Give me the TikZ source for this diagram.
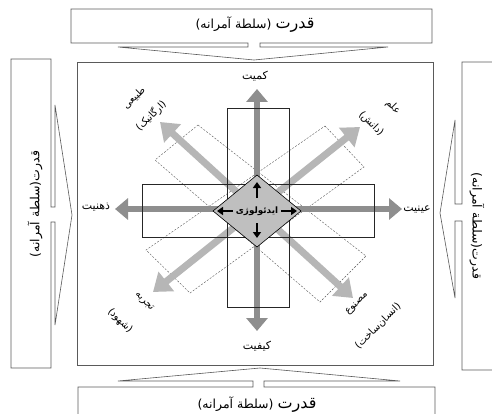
\documentclass[tikz,border=0pt]{standalone}
\usepackage{fontspec}
\TeXXeTstate=1
\newfontfamily\fa[Script=Arabic]{DejaVu Sans}
\usetikzlibrary{arrows.meta}
\definecolor{darkarr}{HTML}{8E8E8E}
\definecolor{lightarr}{HTML}{B6B6B6}
\definecolor{diafill}{HTML}{BFBFBF}
\definecolor{boxdraw}{HTML}{5A5A5A}
\tikzset{
  boxline/.style={draw=boxdraw, line width=0.6pt, fill=white},
  dashrect/.style={draw=black!65, dash pattern=on 2pt off 1.5pt, line width=0.4pt},
  solidrect/.style={draw=black!85, line width=0.6pt},
  mainarr/.style={draw=darkarr, line width=5.5pt, {Triangle[length=13pt,width=21pt]}-{Triangle[length=13pt,width=21pt]}},
  diagarr/.style={draw=lightarr, line width=7pt, {Triangle[length=17pt,width=24pt]}-{Triangle[length=17pt,width=24pt]}},
  innerarr/.style={draw=black, line width=2.2pt, -{Triangle[length=6pt,width=8pt]}},
  axislabel/.style={font=\fa\fontsize{11}{13}\selectfont, inner sep=0pt},
  diaglabel/.style={font=\fa\fontsize{10}{12}\selectfont, inner sep=0pt},
  powerlabel/.style={font=\fa\fontsize{12.5}{14}\selectfont, inner sep=0pt}
}
\begin{document}
\begin{tikzpicture}[x=1pt,y=-1pt]
\useasboundingbox (0,0) rectangle (492,414);
\clip (0,0) rectangle (492,414);

% outer callout boxes
\draw[boxline] (71,9) -- (432,9) -- (432,43) -- (260,43) -- (260,47) -- (388,47)
  -- (254,60) -- (118,47) -- (248,47) -- (248,43) -- (71,43) -- cycle;
\draw[boxline] (78,420) -- (78,387) -- (253,387) -- (253,381) -- (118,381) -- (260,368)
  -- (400,381) -- (264,381) -- (264,387) -- (435,387) -- (435,420) -- cycle;
\draw[boxline] (11,59) -- (51,59) -- (51,207) -- (55,207) -- (55,105) -- (72,215)
  -- (55,325) -- (55,222) -- (51,222) -- (51,368) -- (11,368) -- cycle;
\draw[boxline] (502,62) -- (462,62) -- (462,204) -- (455,204) -- (455,120) -- (440,213)
  -- (455,298) -- (455,221) -- (462,221) -- (462,370) -- (502,370) -- cycle;

\node[powerlabel] (ptop) at (255,25) {\beginR {\fontsize{16}{18}\selectfont قدرت} (سلطة آمرانه)\endR};
\node[powerlabel] (pbot) at (257,405) {\beginR {\fontsize{16}{18}\selectfont قدرت} (سلطة آمرانه)\endR};
\node[powerlabel, rotate=90] (pleft) at (35,204) {\beginR قدرت(سلطة آمرانه)\endR};
\node[powerlabel, rotate=-90] (pright) at (477,226) {\beginR قدرت(سلطة آمرانه)\endR};

% main square
\draw[boxline] (77,62) rectangle (433,365);

% dashed rotated rectangles
\draw[dashrect] (198,125) -- (366,256) -- (320,302) -- (155,160) -- cycle;
\draw[dashrect] (325,126) -- (364,167) -- (190,293) -- (146,250) -- cycle;

% axis tips
\coordinate (ul) at (160,122);
\coordinate (lr) at (353,298);
\coordinate (ur) at (360,127);
\coordinate (ll) at (153,292);
\coordinate (up) at (257,89);
\coordinate (dn) at (257,331);
\coordinate (lf) at (115,209);
\coordinate (rt) at (402,209);

% arrows
\draw[diagarr] (ul) -- (lr);
\draw[diagarr] (ll) -- (ur);
\draw[mainarr] (dn) -- (up);
\draw[mainarr] (lf) -- (rt);

% solid rectangles
\draw[solidrect] (227,108) rectangle (289,307);
\draw[solidrect] (142,184) rectangle (374,237);

% diamond
\draw[black, line width=0.6pt, fill=diafill] (213,211) -- (257,175) -- (301,211) -- (257,247) -- cycle;
\node[font=\fa\bfseries\fontsize{8.8}{10}\selectfont, inner sep=0pt] (ideo) at (257,211) {\beginR ایدئولوژی\endR};
\coordinate (iu1) at (257,198); \coordinate (iu2) at (257,182);
\coordinate (id1) at (257,223); \coordinate (id2) at (257,238);
\coordinate (il1) at (233,211); \coordinate (il2) at (217,211);
\coordinate (ir1) at (281,211); \coordinate (ir2) at (297,211);
\draw[innerarr] (iu1) -- (iu2);
\draw[innerarr] (id1) -- (id2);
\draw[innerarr] (il1) -- (il2);
\draw[innerarr] (ir1) -- (ir2);

% axis labels
\node[axislabel] (kamiyat) at (255,76) {\beginR کمیت\endR};
\node[axislabel] (keyfiyat) at (257,346) {\beginR کیفیت\endR};
\node[axislabel] (zehniyat) at (96,207) {\beginR ذهنیت\endR};
\node[axislabel] (eyniyat) at (417,209) {\beginR عینیت\endR};

% diagonal labels
\node[diaglabel, rotate=45] (tabii) at (134,98) {\beginR طبیعی\endR};
\node[diaglabel, rotate=45] (organic) at (151,116) {\beginR (ارگانیک)\endR};
\node[diaglabel, rotate=-45] (elm) at (393,107) {\beginR علم\endR};
\node[diaglabel, rotate=-45] (danesh) at (371,124) {\beginR (دانش)\endR};
\node[diaglabel, rotate=-45] (tajrobe) at (144,302) {\beginR تجربه\endR};
\node[diaglabel, rotate=-45] (shohud) at (120,321) {\beginR (شهود)\endR};
\node[diaglabel, rotate=45] (masnu) at (357,304) {\beginR مصنوع\endR};
\node[diaglabel, rotate=45] (ensan) at (378,326) {\beginR (انسان‌ساخت)\endR};
\end{tikzpicture}
\end{document}
